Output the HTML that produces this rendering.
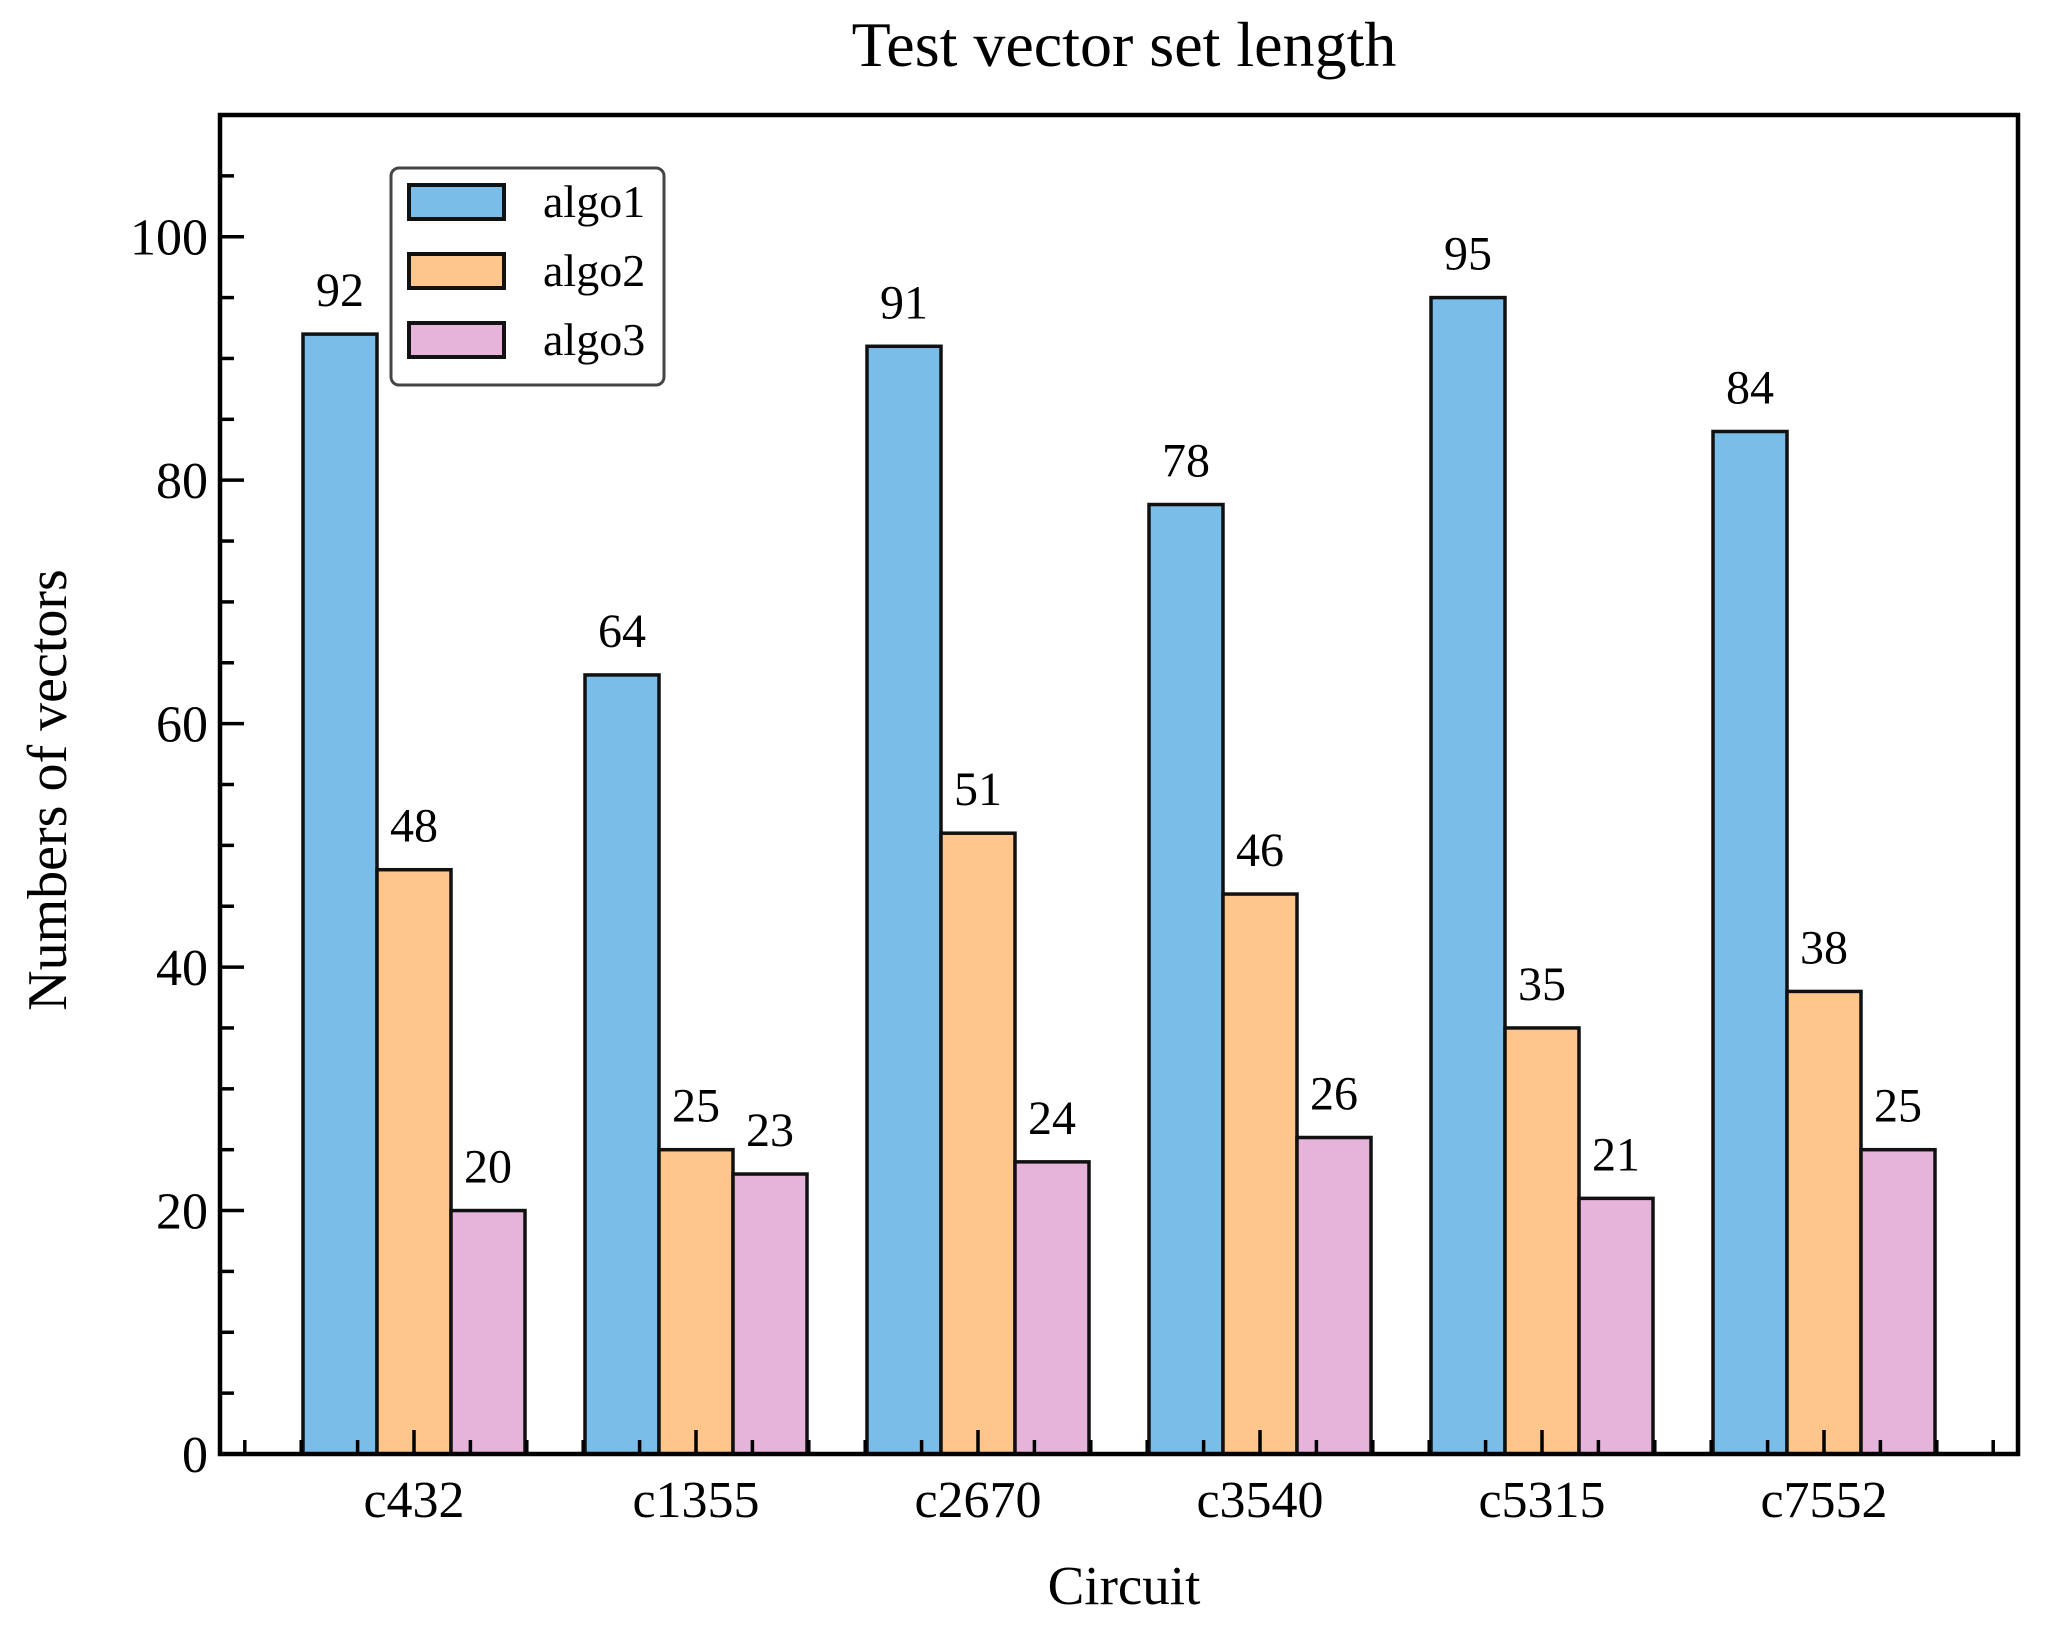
<!DOCTYPE html>
<html><head><meta charset="utf-8"><style>
html,body{margin:0;padding:0;background:#fff;}
svg{display:block;font-family:"Liberation Serif",serif;}
</style></head><body>
<svg id="chart" width="2051" height="1625" viewBox="0 0 2051 1625" xmlns="http://www.w3.org/2000/svg">
<text x="1124" y="66" font-size="64" text-anchor="middle">Test vector set length</text>
<text transform="translate(66,790) rotate(-90)" font-size="56" text-anchor="middle">Numbers of vectors</text>
<text x="1124" y="1604" font-size="55" text-anchor="middle">Circuit</text>
<g id="bars"></g>
<g id="axes"></g>
<g>
<rect x="391" y="168" width="273" height="217" rx="8" fill="#fff" stroke="#444" stroke-width="3"/>
<g id="legend"></g>
</g>
</svg>
<script>
const categories = ["c432","c1355","c2670","c3540","c5315","c7552"];
const seriesNames = ["algo1","algo2","algo3"];
const algo1 = [92,64,91,78,95,84];
const algo2 = [48,25,51,46,35,38];
const algo3 = [20,23,24,26,21,25];
const yTicks = [0,20,40,60,80,100];
const colors = ["#7abde8","#fec68a","#e6b3da"];
const series = [algo1,algo2,algo3];
const NS = "http://www.w3.org/2000/svg";
const L=220,R=2018,T=115,B=1454;
const x0=414, step=282, bw=74;
const yMax=110;
function xs(i){return x0+i*step;}
function ys(v){return B-(B-T)*v/yMax;}
function mk(tag,attrs,parent){const e=document.createElementNS(NS,tag);for(const k in attrs)e.setAttribute(k,attrs[k]);parent.appendChild(e);return e;}
const gb=document.getElementById('bars');
series.forEach((s,si)=>{
  s.forEach((v,i)=>{
    const cx=xs(i)+(si-1)*bw;
    const r=mk('rect',{x:cx-bw/2,y:ys(v),width:bw,height:B-ys(v),fill:colors[si],stroke:'#111','stroke-width':3.5},gb);
    
    
    const t=mk('text',{x:cx,y:ys(v)-28,'font-size':48,'text-anchor':'middle'},gb);
    t.textContent=v;
    
    
  });
});
const ga=document.getElementById('axes');
const frame=mk('rect',{x:L,y:T,width:R-L,height:B-T,fill:'none',stroke:'#000','stroke-width':4.5},ga);


for(let v=0;v<=yMax;v+=5){
  const major=v%20===0;
  const tk=mk('line',{x1:L,x2:L+(major?24:14),y1:ys(v),y2:ys(v),stroke:'#000','stroke-width':3.5},ga);
  
  
}
yTicks.forEach(v=>{
  const t=mk('text',{x:L-12,y:ys(v)+18,'font-size':52,'text-anchor':'end'},ga);
  t.textContent=v;
  
  
});
for(let k=-3;k<=(categories.length-1)*5+3;k++){
  const xv=x0+k*step/5;
  if(xv<=L+2||xv>=R-2)continue;
  const major=k%5===0;
  const tk=mk('line',{x1:xv,x2:xv,y1:B,y2:B-(major?24:14),stroke:'#000','stroke-width':3.5},ga);
  
  
}
categories.forEach((c,i)=>{
  const t=mk('text',{x:xs(i),y:1517,'font-size':52,'text-anchor':'middle'},ga);
  t.textContent=c;
  
  
});
const gl=document.getElementById('legend');
seriesNames.forEach((n,si)=>{
  const cy=202+si*69;
  const p=mk('rect',{x:409,y:cy-17,width:95,height:34,fill:colors[si],stroke:'#111','stroke-width':4},gl);
  
  
  const t=mk('text',{x:543,y:cy+15,'font-size':46},gl);
  t.textContent=n;
  
  
});
</script>
</body></html>
